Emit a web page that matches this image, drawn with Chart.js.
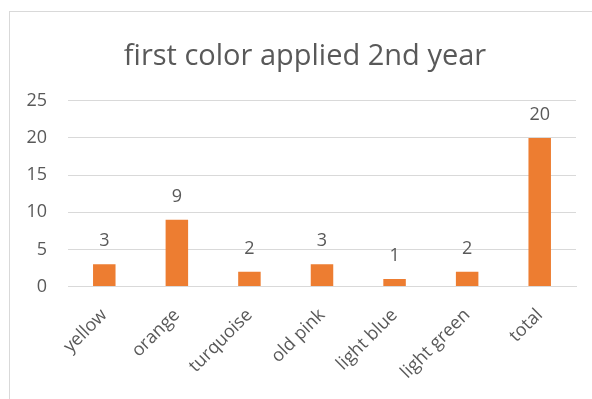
<!DOCTYPE html>
<html>
<head>
<meta charset="utf-8">
<script src="https://cdn.jsdelivr.net/npm/chart.js@4"></script>
<style>
  html, body { margin: 0; padding: 0; background: #fff; overflow: hidden; }
  body { width: 592px; height: 399px; position: relative; }
  #box { position: absolute; left: 9px; top: 11px; width: 592px; height: 400px; border: 1px solid #d9d9d9; }
  #wrap { position: absolute; left: 0; top: 0; width: 590px; height: 398px; }
</style>
</head>
<body>
<div id="box"><div id="wrap"><canvas id="chart"></canvas></div></div>
<script>
// chart data
const categories = ['yellow', 'orange', 'turquoise', 'old pink', 'light blue', 'light green', 'total'];
const counts = [3, 9, 2, 3, 1, 2, 20];
const yTicks = [0, 5, 10, 15, 20, 25];

const textColor = '#595959';
const fontFamily = '"Open Sans", sans-serif';

// draws the value above each bar
const barLabels = {
    id: 'barLabels',
    afterDatasetsDraw: (chart) => {
        const ctx = chart.ctx;
        const meta = chart.getDatasetMeta(0);
        ctx.save();
        ctx.fillStyle = textColor;
        ctx.font = '18px ' + fontFamily;
        ctx.textAlign = 'center';
        ctx.textBaseline = 'middle';
        meta.data.forEach((bar, i) => {
            ctx.fillText(String(counts[i]), bar.x, bar.y - 23);
        });
        ctx.restore();
    }
};

new Chart(document.getElementById('chart'), {
    type: 'bar',
    data: {
        labels: categories,
        datasets: [{
            label: 'first color applied 2nd year',
            data: counts,
            backgroundColor: '#ED7D31',
            categoryPercentage: 1,
            barPercentage: 0.31
        }]
    },
    options: {
        responsive: true,
        maintainAspectRatio: false,
        animation: false,
        layout: { padding: { left: 0, right: 0, top: 0, bottom: 17 } },
        plugins: {
            legend: { display: false },
            tooltip: { enabled: false },
            title: {
                display: true,
                text: 'first color applied 2nd year',
                color: textColor,
                font: { family: fontFamily, size: 29, weight: 'normal' },
                padding: { top: 27, bottom: 27 }
            }
        },
        scales: {
            y: {
                min: 0,
                max: 25,
                afterBuildTicks: (axis) => { axis.ticks = yTicks.map(v => ({ value: v })); },
                afterFit: (axis) => { axis.width = 58; },
                grid: { color: '#d9d9d9', drawTicks: false },
                border: { display: false },
                ticks: { color: textColor, font: { family: fontFamily, size: 18 }, padding: 21 }
            },
            // empty right margin so the title stays centred on the whole box
            yRight: {
                position: 'right',
                display: true,
                afterFit: (axis) => { axis.width = 24; },
                grid: { drawOnChartArea: false, drawTicks: false },
                border: { display: false },
                ticks: { display: false }
            },
            x: {
                grid: { display: false },
                border: { color: '#d9d9d9' },
                ticks: {
                    color: textColor,
                    font: { family: fontFamily, size: 18 },
                    maxRotation: 45,
                    minRotation: 45,
                    autoSkip: false,
                    padding: 10
                }
            }
        }
    },
    plugins: [barLabels]
});
</script>
</body>
</html>
